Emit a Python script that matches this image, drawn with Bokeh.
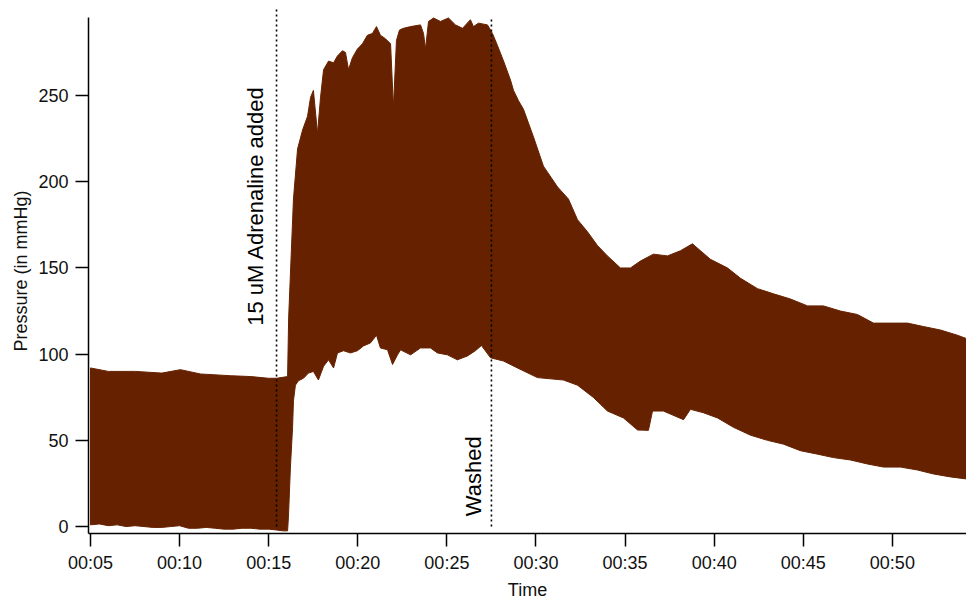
from bokeh.plotting import figure
from bokeh.models import FixedTicker, Range1d
from bokeh.core.properties import value
from bokeh.embed import file_html
from bokeh.resources import INLINE

# ---- data (time in minutes, pressure in mmHg) ----
upper_t = [5.00, 6.0, 7.53, 9.0, 10.05, 11.17, 12.86, 14.0, 14.99, 15.44, 16.06, 16.12,
           16.39, 16.62, 16.90, 17.18, 17.35, 17.51, 17.74, 17.91, 18.08, 18.36, 18.64,
           18.86, 19.14, 19.31, 19.48, 19.70, 19.98, 20.26, 20.54, 20.82, 21.05, 21.27,
           21.55, 21.84, 22.00, 22.17, 22.34, 22.56, 22.96, 23.52, 23.69, 23.80, 23.97,
           24.25, 24.64, 25.09, 25.48, 25.88, 26.32, 26.49, 26.77, 27.28, 27.56, 27.84,
           28.18, 28.57, 28.74, 29.02, 29.30, 29.86, 30.42, 31.21, 31.82, 32.33, 32.89,
           33.45, 34.01, 34.74, 35.30, 35.86, 36.59, 37.38, 38.11, 38.78, 39.23, 39.79,
           40.75, 41.48, 42.43, 43.33, 44.28, 45.24, 46.13, 47.09, 48.04, 48.94, 49.89,
           50.85, 51.75, 52.70, 53.65, 54.16]
upper_v = [92, 90, 90, 89, 91, 88.5, 87.5, 87, 86, 86, 87, 121,
           190, 219, 230, 238, 249, 253, 228, 249, 265, 270, 269,
           273, 276, 275, 265, 272, 277, 280, 285, 286, 290, 285,
           283, 280, 243, 282, 288, 289, 290, 291, 286, 277, 293,
           295, 293, 295, 291, 289, 294, 290, 292, 291, 286, 279,
           270, 259, 253, 247, 242, 226, 209, 197, 190, 178, 171,
           163, 157, 150, 150, 154, 158, 157, 160, 164, 160, 155,
           150, 144, 138, 135, 132, 128, 128, 125, 123, 118, 118,
           118, 116, 114, 111, 109]

lower_t = [5.00, 5.5, 6.0, 6.5, 7.0, 7.5, 8.0, 8.5, 9.0, 9.5, 10.0, 10.5, 11.0, 11.5,
           12.0, 12.5, 13.0, 13.5, 14.0, 14.5, 15.0, 15.44, 15.8, 16.06, 16.11, 16.22,
           16.34, 16.39, 16.50, 16.67, 16.95, 17.23, 17.51, 17.79, 18.08, 18.36, 18.64,
           18.86, 19.20, 19.59, 19.98, 20.32, 20.71, 21.05, 21.27, 21.67, 21.95, 22.23,
           22.40, 22.96, 23.52, 24.08, 24.47, 25.03, 25.59, 26.16, 26.60, 26.94, 27.45,
           28.18, 28.96, 30.08, 31.54, 32.33, 33.23, 34.01, 34.91, 35.70, 36.31, 36.54,
           37.15, 38.28, 38.67, 39.40, 40.19, 41.08, 42.04, 42.99, 43.89, 44.84, 45.80,
           46.69, 47.65, 48.60, 49.50, 50.45, 51.41, 52.31, 53.26, 54.16]
lower_v = [1, 1.5, 0.5, 1, 0, 0.5, 0, -0.5, -0.5, 0, 0.5, -1, -1, -0.5,
           -1, -1.5, -1.5, -1, -1, -1.5, -1.5, -2, -2.5, -2.5, 6, 34.5,
           57.6, 73, 82, 84.6, 86, 89, 90, 85, 93, 96.7, 92,
           100.7, 102, 100.7, 102, 104.8, 106.5, 111, 103.6, 102.5, 94, 99.6,
           102.5, 99.6, 103.6, 103.6, 100.7, 99.6, 96.7, 99, 102, 105, 97.9,
           96, 92, 86.4, 85, 82, 74.8, 67, 63, 56, 55.8, 67,
           67, 62, 68, 66, 63, 57.6, 53, 50, 47.8, 44, 42,
           40, 38.6, 36.3, 34.5, 34.5, 32.8, 30.5, 28.8, 27.6]

event_times = [15.44, 27.5]
event_labels = ["15 uM Adrenaline added", "Washed"]

tick_values = [5, 10, 15, 20, 25, 30, 35, 40, 45, 50]
tick_labels = ["00:05", "00:10", "00:15", "00:20", "00:25",
               "00:30", "00:35", "00:40", "00:45", "00:50"]
y_ticks = [0, 50, 100, 150, 200, 250]

# ---- figure ----
FONT = "Liberation Sans"
FILL = "#662200"
PX_PER_MIN = 17.82

p = figure(width=966, height=602, output_backend="svg", toolbar_location=None,
           x_range=Range1d(4.888, 54.16), y_range=Range1d(-4.03, 300.5),
           min_border_left=88, min_border_right=0, min_border_top=8,
           min_border_bottom=65)
p.outline_line_color = None
p.xgrid.visible = False
p.ygrid.visible = False
p.background_fill_color = "white"
p.border_fill_color = "white"

poly_x = upper_t + lower_t[::-1]
poly_y = upper_v + lower_v[::-1]
p.patch(poly_x, poly_y, fill_color=FILL, line_color=FILL, line_width=1)

# event lines
p.segment(x0=[event_times[0]], y0=[0], x1=[event_times[0]], y1=[300.5],
          line_color="black", line_width=1.6, line_dash="2 3")
p.segment(x0=[event_times[1]], y0=[0], x1=[event_times[1]], y1=[294.8],
          line_color="black", line_width=1.6, line_dash="2 3")

p.text(x=[event_times[0] - 21 / PX_PER_MIN], y=[186], text=[event_labels[0]],
       angle=1.5707963, text_align="center", text_baseline="alphabetic",
       text_font=value(FONT), text_font_size="22px", text_color="black")
p.text(x=[event_times[1] - 18 / PX_PER_MIN], y=[6], text=[event_labels[1]],
       angle=1.5707963, text_align="left", text_baseline="alphabetic",
       text_font=value(FONT), text_font_size="22px", text_color="black")

# axes
xa = p.xaxis[0]
xa.ticker = FixedTicker(ticks=tick_values)
xa.major_label_overrides = {v: l for v, l in zip(tick_values, tick_labels)}
xa.axis_label = "Time"
ya = p.yaxis[0]
ya.ticker = FixedTicker(ticks=y_ticks)
ya.axis_label = "Pressure (in mmHg)"
ya.bounds = (-4.03, 295.3)

for ax in (xa, ya):
    ax.axis_line_width = 1.5
    ax.axis_line_color = "black"
    ax.major_tick_line_color = "black"
    ax.major_tick_line_width = 1.5
    ax.major_tick_out = 13
    ax.major_tick_in = 0
    ax.minor_tick_line_color = None
    ax.major_label_text_font = FONT
    ax.major_label_text_font_size = "18px"
    ax.major_label_text_color = "#111111"
    ax.axis_label_text_font = FONT
    ax.axis_label_text_font_size = "18px"
    ax.axis_label_text_font_style = "normal"
    ax.axis_label_text_color = "#111111"
    ax.axis_label_standoff = 4

xa.major_label_standoff = 6
ya.major_label_standoff = 7

open("out.html", "w").write(file_html(p, INLINE))
